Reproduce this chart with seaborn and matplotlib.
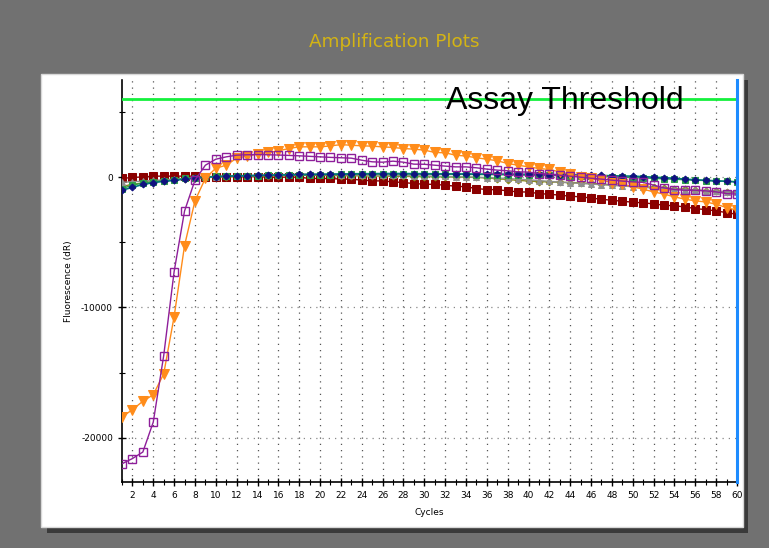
import numpy as np
import pandas as pd
import seaborn as sns
import matplotlib
matplotlib.use("Agg")
import matplotlib.pyplot as plt
from matplotlib.patches import Rectangle

cycles = list(range(1, 61))

purple = [-22000, -21600, -21100, -18800, -13700, -7250, -2600, -230, 920, 1380,
          1560, 1690, 1720, 1740, 1720, 1700, 1670, 1640, 1600, 1560,
          1520, 1490, 1460, 1300, 1180, 1150, 1230, 1150, 1000, 990,
          920, 850, 790, 790, 720, 620, 540, 490, 410, 390,
          280, 230, 150, 80, 0, -80, -150, -230, -300, -360,
          -400, -610, -820, -950, -1000, -1000, -1050, -1130, -1260, -1300]

orange = [-18400, -17850, -17200, -16700, -15100, -10700, -5250, -1820, -80, 690,
          920, 1460, 1620, 1770, 1900, 2020, 2200, 2330, 2330, 2330,
          2400, 2500, 2450, 2410, 2380, 2330, 2280, 2200, 2150, 2080,
          1900, 1870, 1690, 1620, 1490, 1380, 1260, 1050, 920, 790,
          670, 590, 410, 210, 30, -100, -230, -410, -540, -740,
          -920, -1130, -1300, -1510, -1690, -1820, -1900, -2080, -2330, -2540]

darkred = [-100, -20, 20, 80, 80, 80, 80, 80, 40, 40,
           40, 40, 40, 40, 0, 0, 0, 0, -100, -100,
           -100, -150, -150, -230, -280, -290, -360, -410, -490, -540,
           -550, -620, -690, -740, -870, -950, -960, -1050, -1130, -1140,
           -1260, -1310, -1380, -1460, -1510, -1600, -1700, -1770, -1850, -1920,
           -1970, -2050, -2150, -2200, -2280, -2410, -2490, -2590, -2720, -2850]

navy = [-1000, -780, -560, -420, -320, -250, -150, -80, 0, 40,
        70, 100, 120, 140, 160, 180, 200, 210, 220, 230,
        240, 250, 260, 270, 270, 280, 280, 280, 270, 270,
        260, 260, 250, 250, 240, 240, 230, 230, 220, 220,
        210, 200, 190, 180, 170, 150, 130, 110, 90, 80,
        40, 0, -40, -80, -150, -200, -240, -280, -320, -360]

green = [-870, -620, -440, -360, -280, -230, -100, -50, 20, 60,
         80, 100, 110, 120, 140, 150, 160, 170, 180, 190,
         200, 210, 220, 230, 230, 240, 240, 240, 230, 230,
         220, 220, 210, 210, 200, 200, 190, 180, 170, 160,
         150, 140, 130, 110, 90, 70, 50, 30, 0, -30,
         -60, -90, -130, -160, -200, -230, -260, -290, -320, -350]

gray = [-400, -350, -300, -250, -200, -150, -100, -50, 0, 40,
        70, 100, 120, 140, 150, 160, 170, 200, 250, 220,
        200, 190, 180, 170, 160, 150, 140, 130, 120, 100,
        80, 60, 40, 20, 0, -30, -60, -100, -150, -200,
        -260, -320, -380, -430, -480, -530, -580, -630, -680, -730,
        -780, -830, -880, -920, -960, -1000, -1040, -1080, -1110, -1150]

olive = [-700, -560, -430, -340, -260, -200, -130, -80, -30, 10,
         40, 60, 80, 100, 110, 120, 130, 140, 150, 140,
         130, 120, 110, 100, 90, 80, 70, 60, 50, 40,
         30, 20, 10, 0, -20, -60, -120, -180, -240, -300,
         -340, -360, -390, -410, -440, -480, -530, -580, -630, -680,
         -730, -780, -830, -880, -930, -980, -1030, -1080, -1120, -1170]

threshold = 6000
xticks = list(range(2, 61, 2))
yticks = [0, -10000, -20000]
ytick_labels = ["0", "-10000", "-20000"]

W, H = 769, 548
fig = plt.figure(figsize=(W / 100, H / 100), dpi=100)
fig.patch.set_facecolor("#717171")

# panel shadow and white panel
fig.patches.append(Rectangle((47 / W, 1 - 533 / H), (748 - 47) / W, (533 - 80) / H,
                             transform=fig.transFigure, facecolor="#3a3a3a",
                             edgecolor="none", zorder=0))
fig.patches.append(Rectangle((41 / W, 1 - 527 / H), (743 - 41) / W, (527 - 74) / H,
                             transform=fig.transFigure, facecolor="white",
                             edgecolor="#d8d8d8", linewidth=1, zorder=1))

fig.text(394 / W, 1 - 42 / H, "Amplification Plots", color="#d4b414",
         fontsize=13.2, ha="center", va="center", family="DejaVu Sans")

ax = fig.add_axes([122 / W, 1 - 482 / H, (737 - 122) / W, (482 - 80) / H])
ax.set_facecolor("none")
ax.set_zorder(2)

df = pd.DataFrame({"Cycles": cycles, "purple": purple, "orange": orange,
                   "darkred": darkred, "navy": navy, "green": green,
                   "gray": gray, "olive": olive})

ax.axhline(threshold, color="#14f03c", lw=2, zorder=3)

sns.lineplot(data=df, x="Cycles", y="darkred", ax=ax, color="#8b0000", lw=1,
             marker="s", markersize=5.5, markeredgecolor="#8b0000", zorder=4)
sns.lineplot(data=df, x="Cycles", y="olive", ax=ax, color="#8a8a20", lw=1,
             marker="D", markersize=3.5, markeredgecolor="#8a8a20", zorder=5)
sns.lineplot(data=df, x="Cycles", y="gray", ax=ax, color="#909090", lw=1,
             marker="^", markersize=5, markeredgecolor="#909090", zorder=5)
sns.lineplot(data=df, x="Cycles", y="green", ax=ax, color="#2e9e4a", lw=1,
             marker="s", markersize=4, markeredgecolor="#2e9e4a", zorder=5)
sns.lineplot(data=df, x="Cycles", y="navy", ax=ax, color="#007a7a", lw=1.2,
             marker="D", markersize=3.5, markerfacecolor="#101080",
             markeredgecolor="#101080", zorder=6)
sns.lineplot(data=df, x="Cycles", y="orange", ax=ax, color="#ff8c1a", lw=1,
             marker="v", markersize=6.5, markeredgecolor="#ff8c1a", zorder=7)
sns.lineplot(data=df, x="Cycles", y="purple", ax=ax, color="#8e1e9a", lw=1,
             marker="s", markersize=5.5, markerfacecolor="none",
             markeredgecolor="#8e1e9a", markeredgewidth=1, zorder=8)

ax.axvline(60, color="#1e8cff", lw=2.2, zorder=9, clip_on=False)

ax.set_xlim(1, 60)
ax.set_ylim(-23400, 7460)
ax.set_xticks(xticks)
ax.set_xticks(range(1, 61), minor=True)
ax.set_yticks(yticks)
ax.set_yticklabels(ytick_labels)
ax.set_yticks([5000, -5000, -15000], minor=True)
ax.tick_params(axis="both", which="major", labelsize=6.5, direction="inout",
               length=6, width=1, colors="black")
ax.tick_params(axis="both", which="minor", direction="inout", length=4, width=0.8)
for s in ["top", "right"]:
    ax.spines[s].set_visible(False)
for s in ["left", "bottom"]:
    ax.spines[s].set_linewidth(1.2)

ax.grid(True, which="major", axis="x", color="#555555", linestyle=(0, (1, 4)), lw=0.9)
ax.grid(True, which="major", axis="y", color="#888888", linestyle=(0, (1, 4)), lw=0.9)

ax.set_xlabel("Cycles", fontsize=6.5, labelpad=6)
ax.set_ylabel("Fluorescence (dR)", fontsize=6.5, labelpad=6)

ax.text(0.72, 0.948, "Assay Threshold", transform=ax.transAxes, fontsize=23,
        ha="center", va="center", family="Liberation Sans", zorder=10)

fig.savefig("out.png", dpi=100, facecolor=fig.get_facecolor())
